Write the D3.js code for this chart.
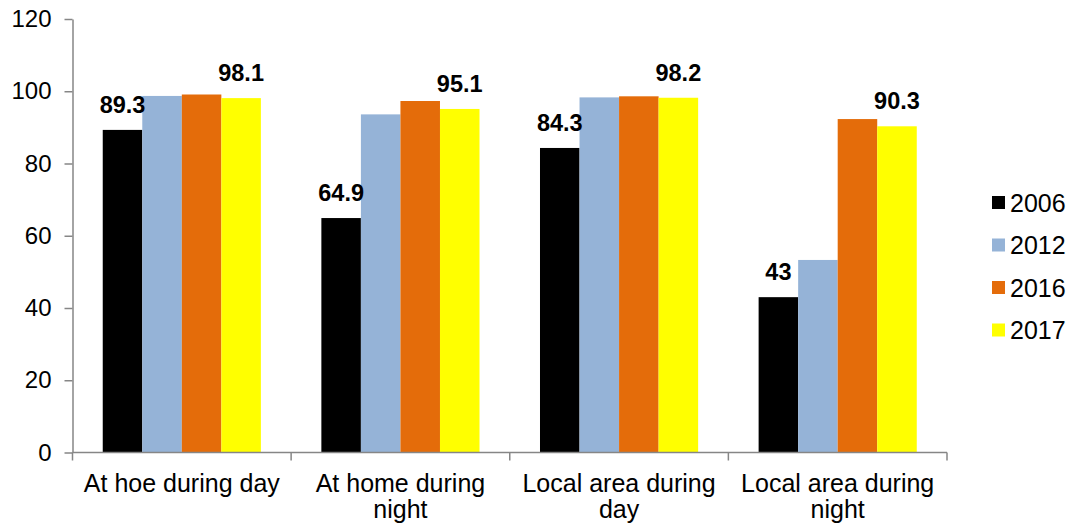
<!DOCTYPE html>
<html>
<head>
<meta charset="utf-8">
<script src="https://cdn.jsdelivr.net/npm/d3@7"></script>
<style>
  html, body { margin: 0; padding: 0; background: #fff; }
  svg { display: block; font-family: "Liberation Sans", Arial, sans-serif; }
</style>
</head>
<body>
<svg id="chart" width="1070" height="525"></svg>
<script>
const categories = ["At hoe during day", "At home during night", "Local area during day", "Local area during night"];
const series = ["2006", "2012", "2016", "2017"];
const values2006 = [89.3, 64.9, 84.3, 43];
const values2012 = [98.7, 93.6, 98.3, 53.3];
const values2016 = [99.1, 97.3, 98.6, 92.3];
const values2017 = [98.1, 95.1, 98.2, 90.3];
const yTicks = [0, 20, 40, 60, 80, 100, 120];
const labelledSeries = ["2006", "2017"];
const colors = ["#000000", "#95B3D7", "#E46C0A", "#FFFF00"];

const seriesValues = { "2006": values2006, "2012": values2012, "2016": values2016, "2017": values2017 };

const svg = d3.select("#chart");
const mLeft = 72.5, mRight = 947, mTop = 19, mBottom = 452.5;

const x0 = d3.scaleBand().domain(categories).range([mLeft, mRight]).padding(0);
const x1 = d3.scaleBand().domain(series).range([0, x0.bandwidth()]).paddingInner(0).paddingOuter(0.765);
const y = d3.scaleLinear().domain([0, 120]).range([mBottom, mTop]);
const color = d3.scaleOrdinal().domain(series).range(colors);

// Bars
const groups = svg.append("g").selectAll("g")
  .data(categories).join("g")
  .attr("transform", d => `translate(${x0(d)},0)`);

groups.selectAll("rect")
  .data((c, i) => series.map(s => ({ s, v: seriesValues[s][i] })))
  .join("rect")
  .attr("x", d => x1(d.s))
  .attr("y", d => y(d.v))
  .attr("width", x1.bandwidth())
  .attr("height", d => y(0) - y(d.v))
  .attr("fill", d => color(d.s));

// Data labels
groups.selectAll("text.lbl")
  .data((c, i) => series.filter(s => labelledSeries.includes(s)).map(s => ({ s, v: seriesValues[s][i] })))
  .join("text")
  .attr("class", "lbl")
  .attr("x", d => x1(d.s) + x1.bandwidth() / 2)
  .attr("y", d => y(d.v) - 17)
  .attr("text-anchor", "middle")
  .attr("font-size", 23.5)
  .attr("font-weight", "bold")
  .attr("fill", "#000")
  .text(d => d.v);

// Y axis
const yAxis = svg.append("g")
  .attr("transform", `translate(${mLeft},0)`)
  .call(d3.axisLeft(y).tickValues(yTicks).tickSize(8).tickSizeOuter(0).tickPadding(13));
yAxis.select(".domain").attr("stroke", "#868686").attr("stroke-width", 1.5);
yAxis.selectAll(".tick line").attr("stroke", "#868686").attr("stroke-width", 1.5);
yAxis.selectAll(".tick text").attr("font-size", 24).attr("fill", "#000")
  .attr("font-family", "Liberation Sans, Arial, sans-serif");

// X axis
const xg = svg.append("g");
xg.append("line")
  .attr("x1", mLeft).attr("x2", mRight)
  .attr("y1", mBottom).attr("y2", mBottom)
  .attr("stroke", "#868686").attr("stroke-width", 1.5);
const boundaries = categories.map(c => x0(c)).concat([x0(categories[categories.length - 1]) + x0.bandwidth()]);
xg.selectAll("line.tk").data(boundaries).join("line")
  .attr("class", "tk")
  .attr("x1", d => d).attr("x2", d => d)
  .attr("y1", mBottom).attr("y2", mBottom + 8)
  .attr("stroke", "#868686").attr("stroke-width", 1.5);

// X labels with wrapping
const maxW = 210;
categories.forEach(c => {
  const cx = x0(c) + x0.bandwidth() / 2;
  const t = xg.append("text")
    .attr("x", cx)
    .attr("y", 492)
    .attr("text-anchor", "middle")
    .attr("font-size", 25)
    .attr("fill", "#000");
  const words = c.split(" ");
  let line = [];
  let tspan = t.append("tspan").attr("x", cx).attr("dy", 0);
  words.forEach(w => {
    line.push(w);
    tspan.text(line.join(" "));
    if (tspan.node().getComputedTextLength() > maxW && line.length > 1) {
      line.pop();
      tspan.text(line.join(" "));
      line = [w];
      tspan = t.append("tspan").attr("x", cx).attr("dy", 26).text(w);
    }
  });
});

// Legend
const legend = svg.append("g");
series.forEach((s, i) => {
  const cy = 202.5 + i * 42.5;
  legend.append("rect")
    .attr("x", 992).attr("y", cy - 6.5)
    .attr("width", 13).attr("height", 13)
    .attr("fill", color(s));
  legend.append("text")
    .attr("x", 1010)
    .attr("y", cy)
    .attr("dy", "0.36em")
    .attr("font-size", 25)
    .attr("fill", "#000")
    .text(s);
});
</script>
</body>
</html>
